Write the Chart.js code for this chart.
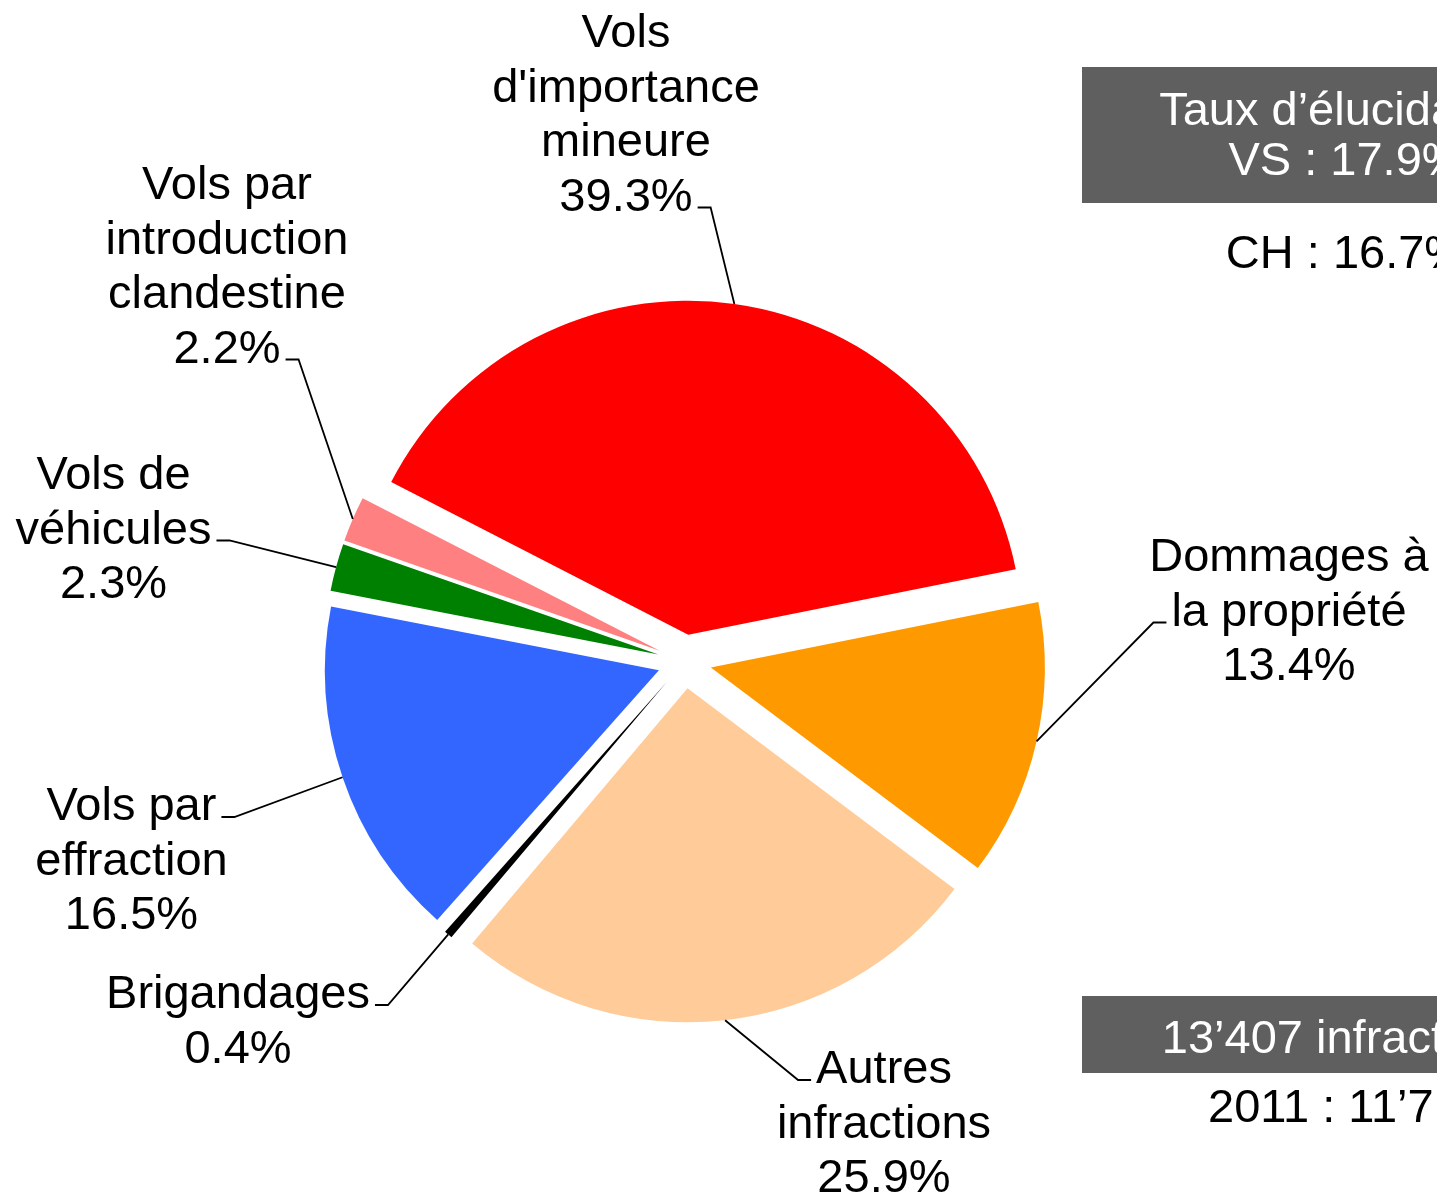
<!DOCTYPE html>
<html lang="fr">
<head>
<meta charset="utf-8">
<title>Répartition des infractions</title>
<script src="https://cdn.jsdelivr.net/npm/chart.js@4.4.1/dist/chart.umd.min.js"></script>
<style>
  html, body { margin: 0; padding: 0; background: #fff; overflow: hidden; }
  #wrap { position: relative; width: 1437px; height: 1196px; }
</style>
</head>
<body>
<div id="wrap"><canvas id="pieChart"></canvas></div>
<script>
// Slices, clockwise from the red one
const categories = [
  ['Vols', "d'importance", 'mineure'],
  ['Dommages à', 'la propriété'],
  ['Autres', 'infractions'],
  ['Brigandages'],
  ['Vols par', 'effraction'],
  ['Vols de', 'véhicules'],
  ['Vols par', 'introduction', 'clandestine']
];
const shares = [39.3, 13.4, 25.9, 0.4, 16.5, 2.3, 2.2];
const sliceColors = ['#ff0000', '#ff9900', '#ffcc99', '#000000', '#3366ff', '#008000', '#ff8080'];

// Side boxes
const clearanceLines = ['Taux d’élucidation', 'VS : 17.9%'];
const clearanceCH = 'CH : 16.7%';
const totalLine = '13’407 infractions';
const previousLine = '2011 : 11’7';

// Label placement: block centre, first baseline, which line carries the leader, leader side
const labelPos = [
  { x: 626, y: 47, anchor: 3, side: 1 },
  { x: 1289, y: 571, anchor: 1, side: -1 },
  { x: 884, y: 1083, anchor: 0, side: -1 },
  { x: 238, y: 1008, anchor: 0, side: 1 },
  { x: 131.5, y: 820, anchor: 0, side: 1 },
  { x: 113.5, y: 489, anchor: 1, side: 1 },
  { x: 227, y: 199, anchor: 3, side: 1 }
];

const FONT = '47px "Liberation Sans", Arial, Helvetica, sans-serif';
const LINE_H = 54.5;
const EXPLODE = 27;

// Push every slice out along its middle angle
const explodePlugin = {
  id: 'explode',
  afterDatasetUpdate(chart, args) {
    args.meta.data.forEach(arc => {
      const mid = (arc.startAngle + arc.endAngle) / 2;
      arc.x += Math.cos(mid) * EXPLODE;
      arc.y += Math.sin(mid) * EXPLODE;
    });
  }
};

// Outside labels with leader lines, plus the grey boxes on the right
const calloutPlugin = {
  id: 'callouts',
  afterDraw(chart) {
    const ctx = chart.ctx;
    const meta = chart.getDatasetMeta(0);
    ctx.save();
    ctx.font = FONT;
    ctx.textBaseline = 'alphabetic';
    ctx.textAlign = 'center';

    meta.data.forEach((arc, i) => {
      const pos = labelPos[i];
      const lines = categories[i].concat([shares[i].toFixed(1) + '%']);
      ctx.fillStyle = '#000';
      lines.forEach((line, k) => ctx.fillText(line, pos.x, pos.y + k * LINE_H));

      const w = ctx.measureText(lines[pos.anchor]).width;
      const ly = pos.y + pos.anchor * LINE_H - 3;
      const sx = pos.x + pos.side * (w / 2 + 5);
      const ex = sx + pos.side * 13;
      const mid = (arc.startAngle + arc.endAngle) / 2;
      const ax = arc.x + Math.cos(mid) * arc.outerRadius;
      const ay = arc.y + Math.sin(mid) * arc.outerRadius;
      ctx.beginPath();
      ctx.moveTo(sx, ly);
      ctx.lineTo(ex, ly);
      ctx.lineTo(ax, ay);
      ctx.strokeStyle = '#000';
      ctx.lineWidth = 1.8;
      ctx.stroke();
    });

    // boxes
    const cx = 1346;
    ctx.fillStyle = '#5f5f5f';
    ctx.fillRect(1082, 67, 420, 136);
    ctx.fillRect(1082, 996, 420, 77);
    ctx.fillStyle = '#fff';
    ctx.fillText(clearanceLines[0], cx, 125);
    ctx.fillText(clearanceLines[1], cx, 175);
    ctx.fillText(totalLine, cx, 1053);
    ctx.fillStyle = '#000';
    ctx.fillText(clearanceCH, cx, 268);
    ctx.textAlign = 'left';
    ctx.fillText(previousLine, 1208, 1122);
    ctx.restore();
  }
};

const ctx = document.getElementById('pieChart').getContext('2d');
const chart = new Chart(ctx, {
  type: 'pie',
  data: {
    labels: categories,
    datasets: [{
      data: shares,
      backgroundColor: sliceColors,
      borderWidth: 0
    }]
  },
  options: {
    responsive: true,
    maintainAspectRatio: false,
    animation: false,
    events: [],
    rotation: -62.8,
    radius: 334,
    layout: {
      padding: { top: 127, right: 68, bottom: 0, left: 0 }
    },
    plugins: {
      legend: { display: false },
      tooltip: { enabled: false }
    }
  },
  plugins: [explodePlugin, calloutPlugin]
});
</script>
</body>
</html>
